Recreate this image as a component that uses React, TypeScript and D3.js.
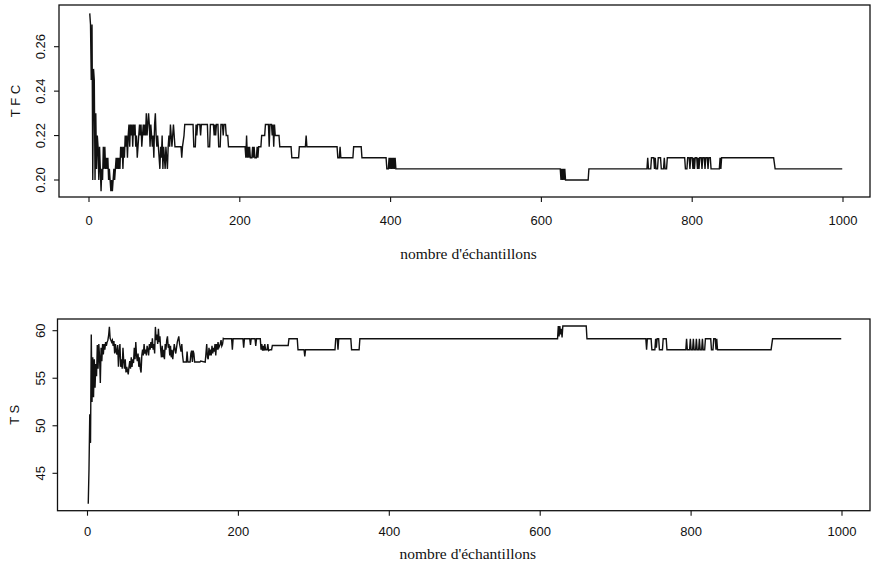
import React from "react";
import * as d3 from "d3";

// ---- Data (sample index, value) ----
const xTicks = [0, 200, 400, 600, 800, 1000];
const tfcTicks = [0.2, 0.22, 0.24, 0.26];
const tsTicks = [45, 50, 55, 60];
const xTitle = "nombre d'échantillons";
const tfcTitle = "T F C";
const tsTitle = "T S";

const tfcSeries: [number, number][] = [
  [1,0.275],[2,0.27],[3,0.245],[4,0.27],[5,0.2],[6,0.25],[7,0.245],[8,0.2],[9,0.23],[10,0.205],
  [11,0.22],[12,0.215],[13,0.2],[14,0.215],[15,0.205],[16,0.195],[17,0.205],[18,0.2],[19,0.215],[20,0.205],
  [21,0.215],[22,0.205],[23,0.21],[24,0.205],[25,0.21],[26,0.2],[27,0.205],[28,0.2],[29,0.195],[30,0.2],
  [31,0.195],[32,0.2],[33,0.205],[34,0.2],[35,0.205],[36,0.21],[37,0.205],[38,0.21],[39,0.205],[40,0.21],
  [41,0.205],[42,0.215],[43,0.21],[44,0.215],[45,0.205],[46,0.215],[47,0.21],[48,0.22],[49,0.215],[50,0.22],
  [51,0.21],[52,0.22],[53,0.225],[54,0.215],[55,0.225],[56,0.22],[57,0.225],[58,0.215],[59,0.225],[60,0.22],
  [61,0.225],[62,0.215],[63,0.22],[64,0.21],[65,0.215],[66,0.22],[67,0.225],[68,0.22],[69,0.225],[70,0.215],
  [71,0.22],[72,0.225],[73,0.22],[74,0.225],[75,0.22],[76,0.23],[77,0.22],[78,0.225],[79,0.23],[80,0.225],
  [81,0.215],[82,0.225],[83,0.22],[84,0.215],[85,0.22],[86,0.21],[87,0.225],[88,0.23],[89,0.22],[90,0.215],
  [91,0.22],[92,0.215],[93,0.21],[94,0.205],[95,0.215],[96,0.21],[97,0.22],[98,0.205],[99,0.215],[100,0.21],
  [101,0.205],[102,0.215],[103,0.21],[104,0.205],[105,0.215],[106,0.22],[107,0.215],[108,0.225],[109,0.22],[110,0.215],
  [111,0.22],[112,0.225],[113,0.22],[114,0.215],
  [122,0.215],[123,0.21],[124,0.215],[126,0.22],[127,0.225],[138,0.225],[139,0.215],[141,0.215],[142,0.225],
  [143,0.22],[144,0.225],[147,0.225],[148,0.22],[149,0.225],[157,0.225],[158,0.215],[160,0.215],[161,0.225],
  [165,0.225],[166,0.22],[167,0.225],[168,0.22],[169,0.225],[171,0.225],[172,0.215],[174,0.215],[175,0.225],
  [177,0.225],[178,0.22],[179,0.225],[181,0.225],[182,0.22],[184,0.22],[185,0.215],[207,0.215],[208,0.21],
  [209,0.22],[210,0.21],[211,0.215],[212,0.21],[213,0.215],[214,0.21],[216,0.21],[217,0.215],[218,0.21],
  [219,0.215],[220,0.21],[222,0.21],[223,0.215],[224,0.21],[225,0.215],[228,0.215],[229,0.22],[233,0.22],
  [234,0.225],[238,0.225],[239,0.215],[240,0.225],[242,0.225],[243,0.22],[244,0.225],[245,0.215],[246,0.225],
  [247,0.22],[252,0.22],[253,0.215],[268,0.215],[269,0.21],[278,0.21],[279,0.215],[287,0.215],[288,0.22],
  [289,0.215],[329,0.215],[330,0.21],[332,0.21],[333,0.215],[334,0.21],[350,0.21],[351,0.215],[361,0.215],
  [362,0.21],[394,0.21],[395,0.205],[397,0.205],[398,0.21],[399,0.205],[400,0.21],[401,0.205],[402,0.21],
  [403,0.205],[404,0.21],[405,0.205],[406,0.21],[407,0.205],
  [625,0.205],[626,0.2],[627,0.205],[628,0.2],[629,0.205],[630,0.2],[631,0.205],[632,0.2],[662,0.2],[663,0.205],
  [740,0.205],[741,0.21],[742,0.205],[745,0.205],[746,0.21],[749,0.21],[750,0.205],[751,0.21],[752,0.205],
  [754,0.205],[755,0.21],[758,0.21],[759,0.205],[762,0.205],[763,0.21],[764,0.205],[766,0.205],[767,0.21],
  [790,0.21],[791,0.205],[793,0.205],[794,0.21],[796,0.21],[797,0.205],[798,0.21],[800,0.21],[801,0.205],
  [802,0.21],[803,0.205],[804,0.21],[806,0.21],[807,0.205],[808,0.21],[809,0.205],[810,0.21],[812,0.21],
  [813,0.205],[814,0.21],[816,0.21],[817,0.205],[818,0.21],[820,0.21],[821,0.205],[822,0.21],[824,0.21],
  [825,0.205],[836,0.205],[837,0.21],[838,0.205],[839,0.21],[908,0.21],[910,0.205],[999,0.205],
];

const tsSeries: [number, number][] = [
  [1,41.8],[2,45.5],[3,51.2],[4,48.2],[5,59.6],[6,52.5],[7,57.2],[8,53.0],[9,57.0],[10,54.0],
  [11,56.5],[12,55.2],[13,58.5],[14,56.0],[15,58.6],[16,57.2],[17,54.5],[18,58.2],[19,56.8],[20,58.6],
  [21,57.5],[22,58.6],[23,58.0],[24,58.8],[25,58.4],[26,58.8],[27,59.0],[28,59.5],[29,60.4],[30,59.2],
  [31,59.0],[32,58.8],[33,59.0],[34,58.4],[35,58.9],[36,57.6],[37,58.6],[38,57.8],[39,57.5],[40,58.5],
  [41,56.2],[42,57.8],[43,58.6],[44,56.2],[45,57.0],[46,56.0],[47,58.2],[48,56.8],[49,56.0],[50,57.0],
  [51,55.6],[52,56.2],[53,55.8],[54,55.4],[55,56.2],[56,56.8],[57,56.0],[58,57.2],[59,56.2],[60,57.0],
  [61,56.6],[62,58.2],[63,57.0],[64,58.8],[65,57.4],[66,56.8],[67,57.6],[68,56.2],[69,57.2],[70,56.0],
  [71,55.6],[72,57.4],[73,58.0],[74,57.4],[75,58.6],[76,57.6],[77,58.0],[78,57.4],[79,58.4],[80,58.0],
  [81,57.4],[82,58.6],[83,58.0],[84,58.8],[85,58.2],[86,59.2],[87,58.0],[88,58.6],[89,57.6],[90,60.4],
  [91,59.0],[92,59.6],[93,58.6],[94,60.2],[95,58.8],[96,59.4],[97,58.0],[98,57.2],[99,58.4],[100,57.2],
  [101,58.0],[102,57.0],[103,58.6],[104,58.0],[105,59.0],[106,59.4],[107,58.2],[108,58.6],[109,57.4],[110,58.4],
  [111,57.2],[112,58.0],[113,57.0],[115,58.6],[117,57.6],[119,58.8],[121,59.4],[122,58.6],[124,57.8],
  [125,58.6],[126,57.4],[127,56.7],[131,56.7],[132,57.8],[133,56.7],[136,56.7],[137,57.6],[138,57.9],
  [139,56.7],[140,57.9],[141,57.6],[142,56.7],[149,56.7],[150,56.8],[156,56.7],[157,57.6],[158,58.6],
  [159,57.2],[160,57.0],[161,58.2],[162,57.4],[163,58.0],[164,57.4],[165,58.4],[166,57.6],[167,58.2],
  [168,57.8],[169,58.6],[170,57.4],[171,58.6],[172,58.0],[173,58.8],[174,58.2],[176,58.6],[177,59.0],
  [178,58.4],[179,58.6],[180,59.2],[181,59.15],[191,59.15],[192,58.0],[193,59.15],[206,59.15],[207,58.2],
  [208,59.15],[215,59.15],[216,58.5],[217,59.15],[222,59.15],[223,58.4],[224,59.15],[229,59.15],[230,58.0],
  [231,58.6],[232,57.9],[233,58.4],[234,57.9],[235,58.6],[236,58.0],[238,58.0],[239,58.6],[240,57.9],
  [242,58.0],[244,58.0],[245,58.45],[266,58.45],[267,59.15],[278,59.15],[279,58.0],[287,58.0],[288,57.3],
  [289,58.0],[328,58.0],[329,59.15],[331,59.15],[332,58.0],[333,59.15],[349,59.15],[350,58.0],[360,58.0],
  [361,59.15],[623,59.15],[624,60.5],[625,59.4],[626,60.5],[627,59.6],[628,60.2],[629,59.3],[630,60.5],
  [661,60.5],[662,59.15],[740,59.15],[741,58.0],[742,59.15],[747,59.15],[748,58.0],[752,58.0],[753,59.15],
  [754,58.2],[755,59.15],[757,59.15],[758,58.0],[762,58.0],[763,59.15],[767,59.15],[768,58.0],[793,58.0],
  [794,59.15],[795,58.0],[798,58.0],[799,59.15],[800,58.0],[802,58.0],[803,59.15],[804,58.0],[806,58.0],
  [807,59.15],[808,58.0],[810,58.0],[811,59.15],[812,58.0],[814,58.0],[815,59.15],[816,58.0],[818,58.0],
  [819,59.15],[826,59.15],[827,58.0],[829,58.0],[830,59.15],[832,59.15],[833,58.0],[834,59.15],[835,58.0],
  [906,58.0],[908,59.15],[999,59.15],
];

const INK = "#111";
const TICK_FONT = "'Liberation Sans', Arial, sans-serif";
const TITLE_FONT = "'Liberation Serif', 'Times New Roman', serif";

type PanelProps = {
  data: [number, number][];
  yTicks: number[];
  yFormat: (v: number) => string;
  yTitle: string;
  box: { l: number; r: number; t: number; b: number };
  xRange: [number, number];
  yDomain: [number, number];
  yRange: [number, number];
  tickLabelY: number;
  xTitleY: number;
  yTickLabelX: number;
  yTitleX: number;
};

function Panel(p: PanelProps) {
  const x = d3.scaleLinear().domain([0, 1000]).range(p.xRange);
  const y = d3.scaleLinear().domain(p.yDomain).range(p.yRange);
  const line = d3
    .line<[number, number]>()
    .x((d) => x(d[0]))
    .y((d) => y(d[1]));
  const midY = (p.box.t + p.box.b) / 2;
  const midX = (p.box.l + p.box.r) / 2;
  return (
    <g>
      <rect
        x={p.box.l}
        y={p.box.t}
        width={p.box.r - p.box.l}
        height={p.box.b - p.box.t}
        fill="none"
        stroke={INK}
        strokeWidth={1.3}
      />
      <path d={line(p.data) || ""} fill="none" stroke={INK} strokeWidth={1.4} strokeLinejoin="miter" />
      {xTicks.map((t) => (
        <g key={"x" + t}>
          <line x1={x(t)} x2={x(t)} y1={p.box.b} y2={p.box.b + 5} stroke={INK} strokeWidth={1.1} />
          <text
            x={x(t)}
            y={p.tickLabelY}
            textAnchor="middle"
            fontFamily={TICK_FONT}
            fontSize={13}
            fill={INK}
          >
            {t}
          </text>
        </g>
      ))}
      {p.yTicks.map((t) => (
        <g key={"y" + t}>
          <line x1={p.box.l - 5} x2={p.box.l} y1={y(t)} y2={y(t)} stroke={INK} strokeWidth={1.1} />
          <text
            transform={`translate(${p.yTickLabelX},${y(t)}) rotate(-90)`}
            textAnchor="middle"
            fontFamily={TICK_FONT}
            fontSize={13}
            fill={INK}
          >
            {p.yFormat(t)}
          </text>
        </g>
      ))}
      <text
        transform={`translate(${p.yTitleX},${midY}) rotate(-90)`}
        textAnchor="middle"
        fontFamily={TICK_FONT}
        fontSize={13}
        fill={INK}
      >
        {p.yTitle}
      </text>
      <text x={midX + 4} y={p.xTitleY} textAnchor="middle" fontFamily={TITLE_FONT} fontSize={15.5} fill={INK}>
        {xTitle}
      </text>
    </g>
  );
}

export default function App() {
  return (
    <svg
      width={872}
      height={567}
      style={{ position: "absolute", left: 0, top: 0, background: "#fff" }}
    >
      <rect width={872} height={567} fill="#fff" />
      <Panel
        data={tfcSeries}
        yTicks={tfcTicks}
        yFormat={(v) => d3.format(".2f")(v)}
        yTitle={tfcTitle}
        box={{ l: 59, r: 870, t: 5, b: 197 }}
        xRange={[89, 843]}
        yDomain={[0.2, 0.26]}
        yRange={[180, 46.7]}
        tickLabelY={225}
        xTitleY={259}
        yTickLabelX={45}
        yTitleX={20}
      />
      <Panel
        data={tsSeries}
        yTicks={tsTicks}
        yFormat={(v) => String(v)}
        yTitle={tsTitle}
        box={{ l: 57.5, r: 870, t: 319, b: 510.7 }}
        xRange={[87.5, 842]}
        yDomain={[45, 60]}
        yRange={[473.3, 330.7]}
        tickLabelY={536}
        xTitleY={559}
        yTickLabelX={45}
        yTitleX={18.5}
      />
    </svg>
  );
}
